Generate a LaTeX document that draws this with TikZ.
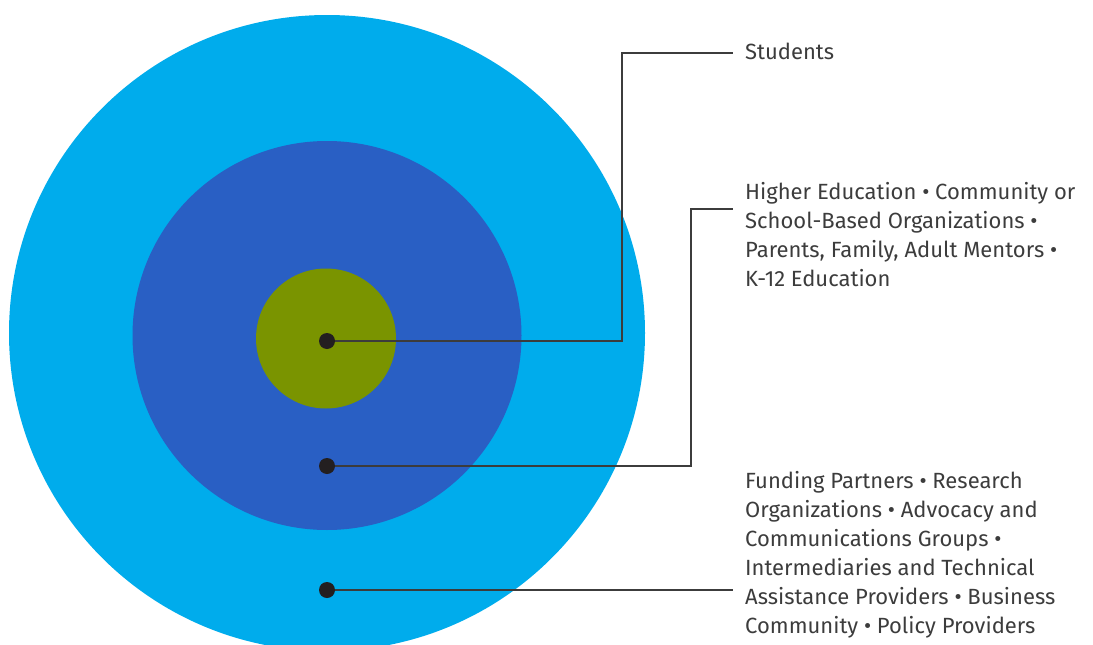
\documentclass[tikz,border=0pt]{standalone}
\usepackage{fontspec}
\setmainfont{Fira Sans}
\usetikzlibrary{positioning}

\definecolor{outerblue}{RGB}{0,172,236}
\definecolor{midblue}{RGB}{41,95,196}
\definecolor{innergreen}{RGB}{122,148,0}
\definecolor{dotblack}{RGB}{35,31,32}
\definecolor{labelgray}{RGB}{60,60,60}

\begin{document}
\begin{tikzpicture}[
        x=1pt, y=-1pt,
        ring/.style={circle, draw=none, inner sep=0pt},
        dot/.style={circle, fill=dotblack, inner sep=0pt, minimum size=16pt},
        leader/.style={draw=labelgray, line width=1.3pt},
        label/.style={anchor=north west, inner sep=0pt, align=left,
            text=labelgray, font=\fontsize{22}{29}\selectfont}
    ]
        \useasboundingbox (0,0) rectangle (1093,645);
        \clip (0,0) rectangle (1093,645);

        % Kreise
        \node[ring, fill=outerblue, minimum size=636pt]  (outer) at (327,333) {};
        \node[ring, fill=midblue, minimum size=389pt]    (mid)   at (327,335.5) {};
        \node[ring, fill=innergreen, minimum size=140pt] (inner) at (326,338.5) {};

        % Punkte
        \path
            (327,341) coordinate (p1)
            (327,466) coordinate (p2)
            (327,590) coordinate (p3);

        % Beschriftungen
        \node[label] (students) at (745,43) {Students};
        \node[label] (partners) at (745,182) {Higher Education • Community or\\
            School-Based Organizations •\\
            Parents, Family, Adult Mentors •\\
            K-12 Education};
        \node[label] (community) at (745,471) {Funding Partners • Research\\
            Organizations • Advocacy and\\
            Communications Groups •\\
            Intermediaries and Technical\\
            Assistance Providers • Business\\
            Community • Policy Providers};

        % Knickpunkte
        \coordinate (k1) at (622,53);
        \coordinate (e1) at (733,53);
        \coordinate (k2) at (691,209);
        \coordinate (e2) at (733,209);
        \coordinate (e3) at (733,590);

        % Linien
        \draw[leader] (p1) -| (k1) -- (e1);
        \draw[leader] (p2) -| (k2) -- (e2);
        \draw[leader] (p3) -- (e3);

        \node[dot] at (p1) {};
        \node[dot] at (p2) {};
        \node[dot] at (p3) {};
    \end{tikzpicture}
\end{document}
